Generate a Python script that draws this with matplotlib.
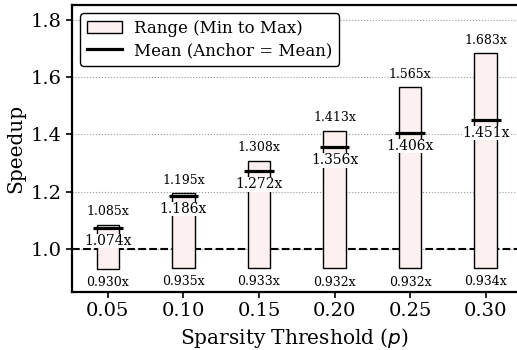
import matplotlib
matplotlib.use("Agg")
import matplotlib.pyplot as plt
from matplotlib.patches import Patch
from matplotlib.lines import Line2D

thresholds = [0.05, 0.10, 0.15, 0.20, 0.25, 0.30]
tick_labels = ["0.05", "0.10", "0.15", "0.20", "0.25", "0.30"]
min_vals = [0.930, 0.935, 0.933, 0.932, 0.932, 0.934]
max_vals = [1.085, 1.195, 1.308, 1.413, 1.565, 1.683]
mean_vals = [1.074, 1.186, 1.272, 1.356, 1.406, 1.451]

plt.rcParams['font.family'] = ['DejaVu Serif']

fig = plt.figure(figsize=(5.17, 3.5), dpi=100)
ax = fig.add_axes([0.139, 0.166, 0.861, 0.820])

face = '#fcf0f0'
bar_w = 0.015
heights = [mx - mn for mx, mn in zip(max_vals, min_vals)]
ax.bar(thresholds, heights, bottom=min_vals, width=bar_w, color=face,
       edgecolor='black', linewidth=1.0, zorder=3)
ax.hlines(mean_vals, [t - 0.0098 for t in thresholds], [t + 0.0098 for t in thresholds],
          colors='black', linewidth=2.3, zorder=5)

ax.axhline(1.0, color='black', linestyle='--', linewidth=1.5, zorder=2)

for t, mn, mx, me in zip(thresholds, min_vals, max_vals, mean_vals):
    ax.text(t, mx + 0.022, f"{mx:.3f}x", ha='center', va='bottom', fontsize=9, zorder=6)
    ax.text(t, mn - 0.025, f"{mn:.3f}x", ha='center', va='top', fontsize=9, zorder=6)
    ax.text(t, me - 0.022, f"{me:.3f}x", ha='center', va='top', fontsize=10, zorder=6,
            bbox=dict(facecolor='white', edgecolor='none', pad=0.3))

ax.set_xlim(0.0262, 0.3207)
ax.set_ylim(0.85, 1.852)
ax.set_xticks(thresholds)
ax.set_xticklabels(tick_labels)
ax.set_yticks([1.0, 1.2, 1.4, 1.6, 1.8])
ax.tick_params(labelsize=14, width=1.2, length=4)
ax.yaxis.grid(True, linestyle=':', color='#999999', linewidth=0.8, zorder=0)
ax.set_axisbelow(True)

for s in ['left', 'bottom', 'top']:
    ax.spines[s].set_linewidth(1.6)
ax.spines['right'].set_visible(False)

ax.set_xlabel("Sparsity Threshold ($p$)", fontsize=14.5)
ax.set_ylabel("Speedup", fontsize=14.5)

handles = [Patch(facecolor=face, edgecolor='black', linewidth=1.0, label='Range (Min to Max)'),
           Line2D([0], [0], color='black', linewidth=2.3, label='Mean (Anchor = Mean)')]
leg = ax.legend(handles=handles, loc='upper left', fontsize=12, frameon=True,
                edgecolor='black', framealpha=1.0, borderaxespad=0.5,
                handlelength=2.1, handletextpad=0.75, borderpad=0.4, labelspacing=0.3)
leg.get_frame().set_linewidth(1.0)

fig.savefig("out.png", dpi=100)
